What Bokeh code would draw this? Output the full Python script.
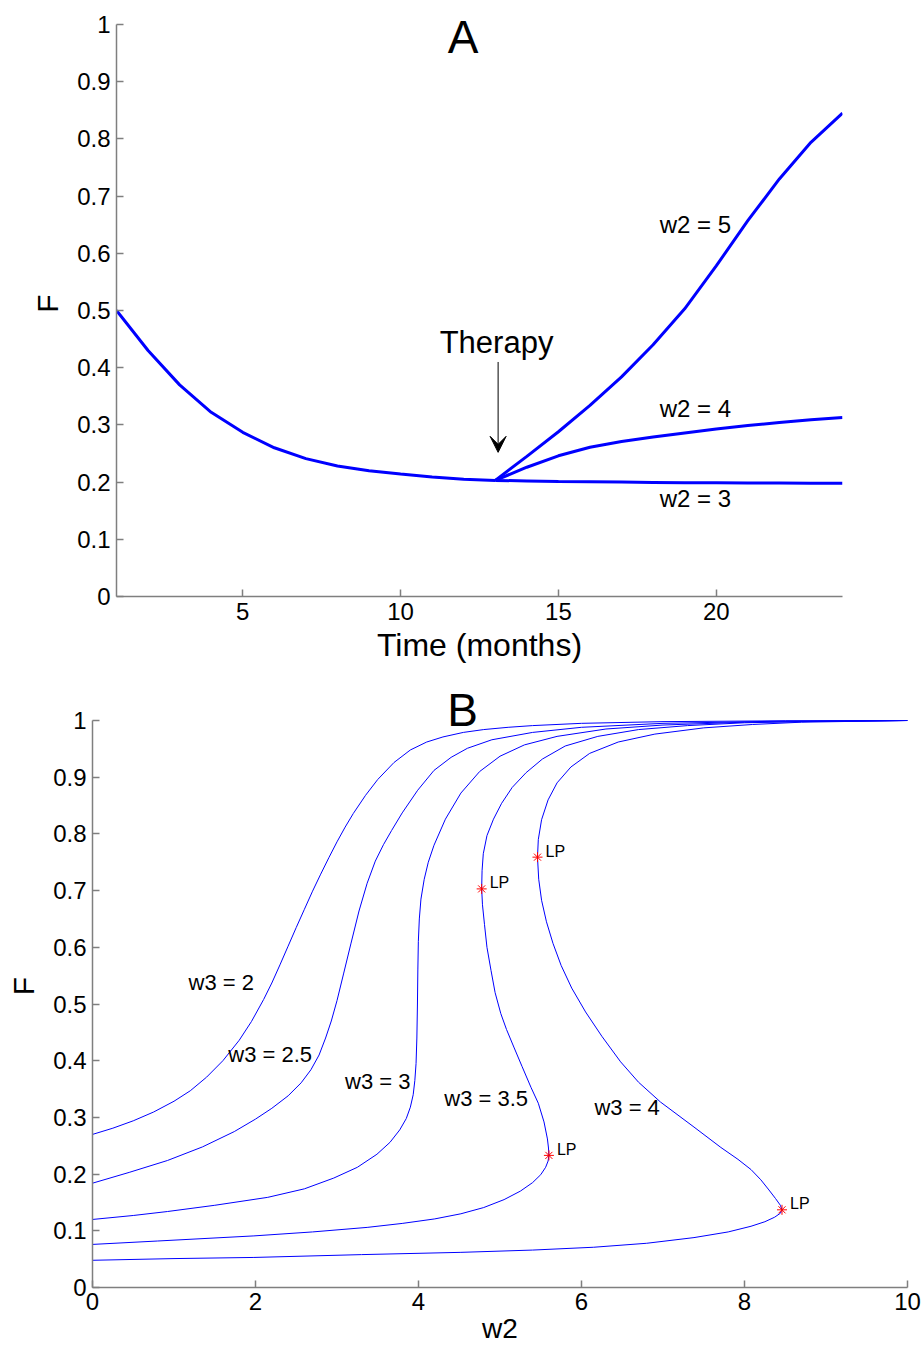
from bokeh.plotting import figure
from bokeh.models import Range1d, FixedTicker, Arrow, VeeHead
from bokeh.embed import file_html
from bokeh.resources import INLINE
from bokeh.core.properties import value

# ---------------- Panel A data ----------------
months_pre = [1, 2, 3, 4, 5, 6, 7, 8, 9, 10, 11, 12, 13]
F_pre = [0.5, 0.43, 0.37, 0.322, 0.287, 0.260, 0.241, 0.228, 0.220, 0.214, 0.209, 0.205, 0.203]
months_post = [13, 14, 15, 16, 17, 18, 19, 20, 21, 22, 23, 24]
F_w2_5 = [0.203, 0.245, 0.288, 0.334, 0.384, 0.440, 0.503, 0.578, 0.657, 0.730, 0.794, 0.845]
F_w2_4 = [0.203, 0.226, 0.246, 0.261, 0.271, 0.279, 0.286, 0.293, 0.299, 0.304, 0.309, 0.313]
F_w2_3 = [0.203, 0.202, 0.201, 0.2005, 0.200, 0.1995, 0.199, 0.1988, 0.1985, 0.1983, 0.1981, 0.198]

a_xticks = [5, 10, 15, 20]
f_ticks = [0, 0.1, 0.2, 0.3, 0.4, 0.5, 0.6, 0.7, 0.8, 0.9, 1]
f_tick_labels = ["0", "0.1", "0.2", "0.3", "0.4", "0.5", "0.6", "0.7", "0.8", "0.9", "1"]

a_curve_labels = ["w2 = 5", "w2 = 4", "w2 = 3"]
a_curve_label_t = [19.34, 19.34, 19.34]
a_curve_label_f = [0.634, 0.313, 0.155]

therapy_text = ["Therapy"]
therapy_t = [13.04]
therapy_f = [0.423]
arrow_t = 13.09
arrow_f = [0.41, 0.252]

panel_a_text = ["A"]
panel_a_t = [11.98]
panel_a_f = [0.949]

# ---------------- Panel B data ----------------
w3_2_w2 = [0, 0.25, 0.5, 0.75, 1.0, 1.2, 1.4, 1.6, 1.8, 1.95, 2.1, 2.2, 2.3, 2.4, 2.5, 2.6, 2.7, 2.8,
           2.9, 3.0, 3.1, 3.2, 3.35, 3.5, 3.7, 3.9, 4.1, 4.3, 4.55, 4.8, 5.1, 5.4, 6.0, 7.0, 8.5, 10]
w3_2_F = [0.27, 0.281, 0.294, 0.3095, 0.3285, 0.347, 0.371, 0.400, 0.436, 0.469, 0.508, 0.537, 0.569, 0.602,
          0.635, 0.667, 0.699, 0.729, 0.758, 0.786, 0.812, 0.836, 0.868, 0.896, 0.926, 0.948, 0.962, 0.971,
          0.979, 0.984, 0.988, 0.991, 0.995, 0.998, 0.9995, 1.0]

w3_25_w2 = [0, 0.45, 0.92, 1.35, 1.74, 2.0, 2.2, 2.4, 2.56, 2.68, 2.78, 2.86, 2.93, 3.0, 3.08, 3.17,
            3.27, 3.37, 3.47, 3.57, 3.67, 3.8, 3.99, 4.19, 4.4, 4.6, 4.9, 5.4, 6.0, 7.0, 8.5, 10]
w3_25_F = [0.184, 0.203, 0.224, 0.248, 0.275, 0.297, 0.316, 0.338, 0.361, 0.384, 0.410, 0.440, 0.470, 0.506,
           0.553, 0.606, 0.664, 0.713, 0.752, 0.781, 0.806, 0.837, 0.877, 0.912, 0.935, 0.951, 0.966, 0.979,
           0.988, 0.995, 0.999, 1.0]

w3_3_w2 = [0, 0.5, 0.92, 1.5, 2.15, 2.6, 2.96, 3.25, 3.49, 3.65, 3.77, 3.85, 3.9, 3.935, 3.955, 3.97,
           3.98, 3.987, 3.992, 3.998, 4.01, 4.03, 4.07, 4.12, 4.19, 4.33, 4.52, 4.75, 5.0, 5.3, 5.7,
           6.3, 7.0, 8.0, 10]
w3_3_F = [0.12, 0.127, 0.134, 0.145, 0.159, 0.174, 0.193, 0.212, 0.235, 0.256, 0.278, 0.298, 0.318, 0.340,
          0.365, 0.395, 0.440, 0.500, 0.560, 0.610, 0.650, 0.685, 0.720, 0.750, 0.780, 0.826, 0.872, 0.910,
          0.937, 0.957, 0.972, 0.985, 0.992, 0.997, 1.0]

w3_35_w2 = [0, 0.8, 1.98, 2.7, 3.37, 3.8, 4.2, 4.52, 4.8, 5.05, 5.25, 5.4, 5.5, 5.56, 5.59, 5.60,
            5.595, 5.582, 5.54, 5.47, 5.38, 5.27, 5.17, 5.08, 5.01, 4.94, 4.89, 4.84, 4.81, 4.785,
            4.775, 4.78, 4.795, 4.84, 4.92, 5.02, 5.15, 5.32, 5.52, 5.8, 6.2, 6.7, 7.3, 8.0, 8.7, 10]
w3_35_F = [0.076, 0.082, 0.091, 0.098, 0.106, 0.113, 0.121, 0.130, 0.141, 0.155, 0.170, 0.185, 0.199, 0.212,
           0.223, 0.233, 0.246, 0.262, 0.292, 0.325, 0.353, 0.390, 0.424, 0.455, 0.483, 0.520, 0.559, 0.600,
           0.640, 0.675, 0.703, 0.735, 0.765, 0.797, 0.826, 0.854, 0.882, 0.908, 0.932, 0.955, 0.972, 0.984,
           0.991, 0.996, 0.998, 1.0]

w3_4_w2 = [0, 1.0, 1.98, 3.3, 4.52, 5.4, 6.15, 6.8, 7.38, 7.8, 8.08, 8.25, 8.37, 8.44, 8.46, 8.44,
           8.38, 8.3, 8.2, 8.08, 7.92, 7.71, 7.38, 6.97, 6.7, 6.48, 6.25, 6.05, 5.88, 5.75, 5.65,
           5.57, 5.51, 5.475, 5.46, 5.47, 5.51, 5.59, 5.7, 5.87, 6.1, 6.45, 6.9, 7.5, 8.1, 8.7, 10]
w3_4_F = [0.048, 0.051, 0.053, 0.058, 0.062, 0.066, 0.071, 0.078, 0.088, 0.098, 0.108, 0.116, 0.124, 0.131,
          0.137, 0.145, 0.157, 0.172, 0.190, 0.208, 0.226, 0.247, 0.283, 0.327, 0.362, 0.398, 0.443, 0.486,
          0.528, 0.568, 0.607, 0.645, 0.683, 0.720, 0.759, 0.790, 0.825, 0.860, 0.890, 0.918, 0.942, 0.962,
          0.976, 0.987, 0.993, 0.997, 1.0]

b_xticks = [0, 2, 4, 6, 8, 10]

b_curve_labels = ["w3 = 2", "w3 = 2.5", "w3 = 3", "w3 = 3.5", "w3 = 4"]
b_curve_label_w2 = [1.58, 2.18, 3.50, 4.83, 6.56]
b_curve_label_F = [0.523, 0.396, 0.349, 0.319, 0.303]

lp_w2 = [5.46, 4.775, 5.60, 8.46]
lp_F = [0.759, 0.703, 0.233, 0.137]
lp_text = ["LP", "LP", "LP", "LP"]

panel_b_text = ["B"]
panel_b_w2 = [4.54]
panel_b_f = [0.989]

FONT = "Liberation Sans"
BLUE = "#0000ff"
AXIS_GREY = "#7f7f7f"
BASELINE_FIX = 0.38  # shift (in em) so the svg text baseline sits where intended

# layout geometry (pixels)
A_LEFT, A_FRAME_W, A_TOP, A_FRAME_TOP_PAD, A_FRAME_H, A_BOTTOM = 116, 726, 10, 14, 572, 84
B_LEFT, B_FRAME_W, B_TOP, B_FRAME_TOP_PAD, B_FRAME_H, B_BOTTOM = 92, 815, 4, 36, 567, 62
PAGE_W = 922


def yoff(size):
    return -round(BASELINE_FIX * size)


def style(p, xticks, xlabel_size, xlabel_standoff):
    p.outline_line_color = None
    p.xgrid.visible = False
    p.ygrid.visible = False
    for ax in (p.xaxis[0], p.yaxis[0]):
        ax.axis_line_color = AXIS_GREY
        ax.axis_line_width = 1.5
        ax.major_tick_line_color = AXIS_GREY
        ax.major_tick_line_width = 1.5
        ax.major_tick_in = 7
        ax.major_tick_out = 0
        ax.minor_tick_line_color = None
        ax.major_label_text_font = FONT
        ax.major_label_text_font_size = "24px"
        ax.major_label_text_color = "black"
        ax.axis_label_text_font = FONT
        ax.axis_label_text_font_style = "normal"
        ax.axis_label_text_color = "black"
        ax.major_label_standoff = 6
    p.yaxis[0].axis_label_text_font_size = "30px"
    p.xaxis[0].axis_label_text_font_size = xlabel_size
    p.yaxis[0].bounds = (0, 1)
    p.yaxis[0].ticker = FixedTicker(ticks=f_ticks)
    p.yaxis[0].major_label_overrides = dict(zip(f_ticks, f_tick_labels))
    p.xaxis[0].ticker = FixedTicker(ticks=xticks)
    p.yaxis[0].axis_label_standoff = 10
    p.xaxis[0].axis_label_standoff = xlabel_standoff


# ---------------- Figure A ----------------
a_ymax = 1 + A_FRAME_TOP_PAD / A_FRAME_H
pA = figure(width=PAGE_W, height=A_TOP + A_FRAME_TOP_PAD + A_FRAME_H + A_BOTTOM,
            x_range=Range1d(1, 24), y_range=Range1d(0, a_ymax),
            output_backend="svg", toolbar_location=None,
            min_border_left=A_LEFT, min_border_right=PAGE_W - A_LEFT - A_FRAME_W,
            min_border_top=A_TOP, min_border_bottom=A_BOTTOM,
            x_axis_label="Time (months)", y_axis_label="F")
style(pA, a_xticks, "32px", 4)

pA.line(months_pre, F_pre, line_color=BLUE, line_width=3)
pA.line(months_post, F_w2_5, line_color=BLUE, line_width=3)
pA.line(months_post, F_w2_4, line_color=BLUE, line_width=3)
pA.line(months_post, F_w2_3, line_color=BLUE, line_width=3)

pA.text(x=a_curve_label_t, y=a_curve_label_f, text=a_curve_labels, text_align="center",
        text_baseline="alphabetic", y_offset=yoff(24),
        text_font=value(FONT), text_font_size="24px", text_color="black")
pA.text(x=therapy_t, y=therapy_f, text=therapy_text, text_align="center",
        text_baseline="alphabetic", y_offset=yoff(31),
        text_font=value(FONT), text_font_size="31px", text_color="black")
pA.add_layout(Arrow(end=VeeHead(size=16, fill_color="black", line_color="black", line_width=1),
                    x_start=arrow_t, y_start=arrow_f[0], x_end=arrow_t, y_end=arrow_f[1],
                    line_color="black", line_width=1))
pA.text(x=panel_a_t, y=panel_a_f, text=panel_a_text, text_align="center", text_baseline="alphabetic",
        y_offset=yoff(46), text_font=value(FONT), text_font_size="46px", text_color="black")

# ---------------- Figure B ----------------
b_ymax = 1 + B_FRAME_TOP_PAD / B_FRAME_H
pB = figure(width=PAGE_W, height=B_TOP + B_FRAME_TOP_PAD + B_FRAME_H + B_BOTTOM,
            x_range=Range1d(0, 10), y_range=Range1d(0, b_ymax),
            output_backend="svg", toolbar_location=None,
            min_border_left=B_LEFT, min_border_right=PAGE_W - B_LEFT - B_FRAME_W,
            min_border_top=B_TOP, min_border_bottom=B_BOTTOM,
            x_axis_label="w2", y_axis_label="F")
style(pB, b_xticks, "28px", 0)
pB.xaxis[0].major_label_standoff = 5

for xs, ys in [(w3_2_w2, w3_2_F), (w3_25_w2, w3_25_F), (w3_3_w2, w3_3_F),
               (w3_35_w2, w3_35_F), (w3_4_w2, w3_4_F)]:
    pB.line(xs, ys, line_color=BLUE, line_width=1)

pB.scatter(x=lp_w2, y=lp_F, marker="asterisk", size=10, line_color="red", line_width=1)
pB.text(x=lp_w2, y=lp_F, text=lp_text, x_offset=8, y_offset=yoff(16), text_align="left",
        text_baseline="alphabetic", text_font=value(FONT), text_font_size="16px", text_color="black")
pB.text(x=b_curve_label_w2, y=b_curve_label_F, text=b_curve_labels, text_align="center",
        text_baseline="alphabetic", y_offset=yoff(22),
        text_font=value(FONT), text_font_size="22px", text_color="black")
pB.text(x=panel_b_w2, y=panel_b_f, text=panel_b_text, text_align="center", text_baseline="alphabetic",
        y_offset=yoff(46), text_font=value(FONT), text_font_size="46px", text_color="black")

open("out.html", "w").write(file_html([pA, pB], INLINE))
